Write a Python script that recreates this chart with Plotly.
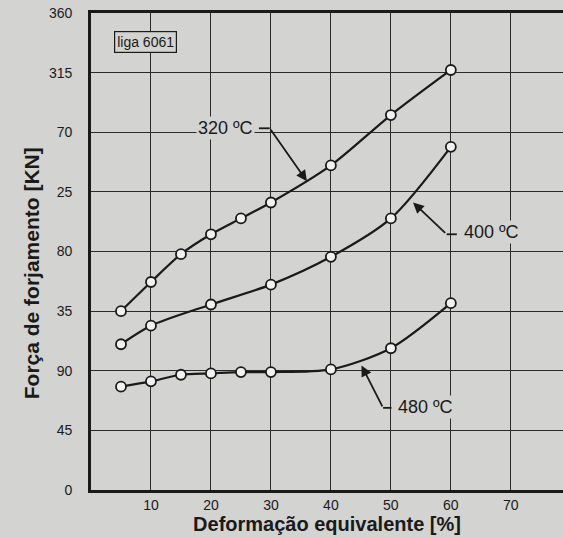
import plotly.graph_objects as go

# Data
deform_320 = [5, 10, 15, 20, 25, 30, 40, 50, 60]
force_320 = [135, 157, 178, 193, 205, 217, 245, 283, 317]
deform_400 = [5, 10, 20, 30, 40, 50, 60]
force_400 = [110, 124, 140, 155, 176, 205, 259]
deform_480 = [5, 10, 15, 20, 25, 30, 40, 50, 60]
force_480 = [78, 82, 87, 88, 89, 89, 91, 107, 141]

x_ticks = [10, 20, 30, 40, 50, 60, 70, 80]
y_tick_vals = [0, 45, 90, 135, 180, 225, 270, 315, 360]
y_tick_text = ["0", "45", "90", "35", "80", "25", "70", "315", "360"]

BG = "#d3d3d1"
INK = "#1a1a1a"
FONT = "Liberation Sans, Arial, sans-serif"

fig = go.Figure()
for xs, ys in [(deform_320, force_320), (deform_400, force_400), (deform_480, force_480)]:
    fig.add_trace(go.Scatter(
        x=xs, y=ys, mode="lines+markers",
        line=dict(color=INK, width=2.2, shape="spline", smoothing=0.8),
        marker=dict(symbol="circle", size=10, color="#f2f2f2",
                    line=dict(color=INK, width=1.8)),
        showlegend=False, hoverinfo="skip"))

# Labels with leader lines: (text, text_x, text_y, kink_x, kink_y, end_x, curve_x, curve_y)
labels = [
    ("320 ºC", 22.4, 273, 29.8, 273, 28.0, 36.0, 233),
    ("400 ºC", 66.8, 195, 59.3, 193, 61.0, 53.7, 217),
    ("480 ºC", 55.8, 63, 48.7, 62, 50.1, 45.1, 94),
]
for text, tx, ty, kx, ky, ex, cx, cy in labels:
    fig.add_shape(type="line", x0=kx, y0=ky, x1=ex, y1=ky,
                  line=dict(color=INK, width=1.8))
    fig.add_annotation(x=cx, y=cy, ax=kx, ay=ky, axref="x", ayref="y",
                       xref="x", yref="y", text="", showarrow=True,
                       arrowhead=2, arrowsize=1.2, arrowwidth=1.8,
                       arrowcolor=INK, standoff=0)
    fig.add_annotation(x=tx, y=ty, text=text, showarrow=False,
                       font=dict(family=FONT, size=18, color=INK),
                       bgcolor=BG, borderpad=1)

fig.add_annotation(x=9.1, y=338, text="liga 6061", showarrow=False,
                   font=dict(family=FONT, size=14, color=INK),
                   bgcolor=BG, bordercolor=INK, borderwidth=1.2, borderpad=2)

# y-axis title placed as in the reference (slightly below the plot centre)
fig.add_annotation(xref="paper", yref="paper", x=-0.153, y=0.455,
                   text="<b>Força de forjamento [KN]</b>", textangle=-90,
                   showarrow=False, font=dict(family=FONT, size=21, color=INK))

fig.update_layout(
    width=563, height=538,
    margin=dict(l=91, r=0, t=13, b=48, autoexpand=False),
    paper_bgcolor=BG, plot_bgcolor=BG,
    font=dict(family=FONT, color=INK),
    xaxis=dict(range=[0, 78.7], tickvals=x_ticks, showgrid=True,
               gridcolor="#2a2a2a", gridwidth=1.3, zeroline=False,
               showline=True, linecolor=INK, linewidth=2.8, mirror=True,
               ticks="", tickfont=dict(size=14, color=INK), automargin=False,
               title=dict(text="<b>Deformação equivalente [%]</b>",
                          font=dict(size=20, color=INK), standoff=2)),
    yaxis=dict(range=[0, 360], tickvals=y_tick_vals, ticktext=y_tick_text,
               showgrid=True, gridcolor="#2a2a2a", gridwidth=1.3,
               zeroline=False, showline=True, linecolor=INK, linewidth=2.8,
               mirror=False, ticks="", ticklabelstandoff=13, automargin=False,
               tickfont=dict(size=14, color=INK)),
)

fig.write_html(
    "out.html",
    config={"displayModeBar": False},
    post_script="document.body.style.margin='0';"
                "document.body.style.overflow='hidden';"
                "document.documentElement.style.background='" + BG + "';",
)
